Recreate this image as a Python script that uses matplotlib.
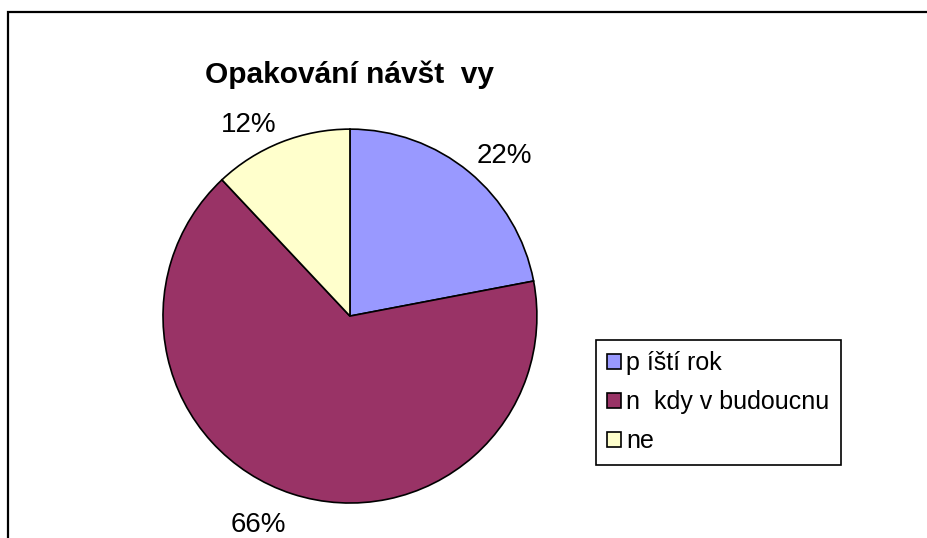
import numpy as np
import matplotlib.pyplot as plt
from matplotlib.patches import Rectangle

plt.rcParams['font.family'] = ['Liberation Sans', 'DejaVu Sans']

# data
labels = ["p íští rok", "n  kdy v budoucnu", "ne"]
values = [22, 66, 12]
colors = ['#9999FF', '#993366', '#FFFFCC']
title = "Opakování návšt  vy"

fig = plt.figure(figsize=(9.28, 5.38), dpi=100)

# frame around the chart area (right and bottom run off the picture)
fig.patches.append(Rectangle((8 / 928, -0.2), 1.2, 1.2 - 12 / 538,
                             transform=fig.transFigure, fill=False,
                             edgecolor='black', linewidth=1.6))

ax = fig.add_axes([0.1756, 0.065, 0.403, 0.695])
wedges, texts = ax.pie(values, colors=colors, startangle=90, counterclock=False,
                       wedgeprops=dict(edgecolor='black', linewidth=1.2))
ax.set_xlim(-1, 1)
ax.set_ylim(-1, 1)
ax.set_aspect('equal')

# percent labels outside, anchored by the corner nearest the pie (like Excel)
for w, v in zip(wedges, values):
    ang = np.deg2rad((w.theta1 + w.theta2) / 2)
    top = np.sin(ang) > 0
    r = 1.06 if top else 1.1
    x, y = r * np.cos(ang), r * np.sin(ang)
    ax.text(x, y, f"{v}%", fontsize=20, clip_on=False,
            ha='left' if x > 0 else 'right', va='baseline' if top else 'top')

fig.text(350 / 928, 1 - 75 / 538, title, ha='center', va='center',
         fontsize=21.5, fontweight='bold')

leg = fig.legend(wedges, labels, loc='upper left', bbox_to_anchor=(596 / 928, 1 - 340 / 538),
                 fontsize=18, fancybox=False, framealpha=1, edgecolor='black',
                 labelspacing=0.6, handlelength=0.55, handleheight=0.55,
                 handletextpad=0.2, borderpad=0.45, borderaxespad=0)
leg.get_frame().set_linewidth(1.2)

fig.savefig('out.png', dpi=100)
